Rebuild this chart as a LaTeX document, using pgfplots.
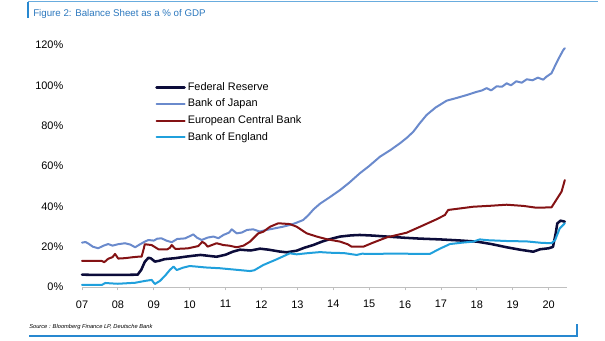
\documentclass[border=0pt]{standalone}
\usepackage{pgfplots}
\pgfplotsset{compat=1.18}
\usepackage{fontspec}
\setmainfont{Liberation Sans}
\definecolor{fedc}{RGB}{12,12,58}
\definecolor{bojc}{RGB}{106,138,204}
\definecolor{ecbc}{RGB}{132,18,20}
\definecolor{boec}{RGB}{32,160,220}
\definecolor{framec}{RGB}{40,136,208}
\definecolor{titlec}{RGB}{44,120,190}
\begin{document}
\begin{tikzpicture}
\path[use as bounding box] (0pt,0pt) rectangle (453.75pt,255.75pt);
% header
\draw[framec, line width=0.9pt] (21pt,242.25pt) -- (21pt,254.6pt);
\draw[framec!70, line width=0.6pt] (21pt,254.6pt) -- (448.5pt,254.6pt);
\node[anchor=west, inner sep=0pt, text=titlec, font=\fontsize{7.3}{8}\selectfont] at (24.75pt,245.5pt) {Figure 2: Balance Sheet as a \% of GDP};
% footer
\node[anchor=west, inner sep=0pt, font=\fontsize{4.3}{5}\selectfont\itshape] at (21.75pt,10.5pt) {Source : Bloomberg Finance LP, Deutsche Bank};
\draw[framec, line width=0.9pt] (21.75pt,3.75pt) -- (432.75pt,3.75pt) -- (432.75pt,12.75pt);
\begin{axis}[
  at={(61.5pt,40.5pt)}, anchor=south west,
  scale only axis, width=363.45pt, height=181.5pt,
  xmin=2007, xmax=2020.5, ymin=0, ymax=120,
  axis x line*=bottom, axis y line*=left,
  x axis line style={draw=black!25, line width=0.6pt},
  y axis line style={draw=none},
  xtick={2007,...,2020},
  xticklabels={07,08,09,10,11,12,13,14,15,16,17,18,19,20},
  ytick={0,20,...,120},
  yticklabel={\pgfmathprintnumber{\tick}\%},
  /pgf/number format/assume math mode=true,
  tick label style={font=\fontsize{8.2}{9.6}\selectfont},
  xticklabel style={yshift=-4pt},
  yticklabel style={xshift=-8pt},
  xtick style={draw=black!25, line width=0.6pt},
  ytick style={draw=none},
  major tick length=2.5pt, tick align=outside,
  clip=false,
  legend style={at={(0.1506,0.847)}, anchor=north west, draw=none, fill=none,
    font=\fontsize{8.2}{9.6}\selectfont, row sep=5pt, inner sep=0pt,
    nodes={inner sep=0pt, text height=6pt, text depth=1.5pt},
    /tikz/every odd column/.append style={column sep=1.5pt}},
  legend cell align=left,
  legend image code/.code={\draw[#1] (0pt,0pt) -- (21pt,0pt);},
  every axis plot/.append style={line join=round, line cap=round},
]
\addplot[fedc, line width=1.9pt] coordinates {
(2007.0,6.1)(2007.5,6.0)(2008.0,6.0)(2008.55,6.1)(2008.65,8.5)(2008.75,12.5)(2008.85,14.5)(2008.92,14.2)(2009.03,12.6)(2009.15,13.0)(2009.3,13.8)(2009.6,14.3)(2009.87,15.0)(2010.1,15.5)(2010.3,15.9)(2010.5,15.5)(2010.75,15.0)(2011.0,16.0)(2011.2,17.5)(2011.4,18.5)(2011.7,18.1)(2011.96,19.0)(2012.2,18.5)(2012.5,17.6)(2012.7,17.2)(2012.98,18.0)(2013.2,19.5)(2013.44,20.8)(2013.7,22.6)(2013.9,23.7)(2014.19,25.0)(2014.5,25.6)(2014.74,25.8)(2015.1,25.5)(2015.5,25.0)(2016.0,24.4)(2016.4,24.0)(2016.97,23.6)(2017.5,23.1)(2018.0,22.5)(2018.4,21.3)(2018.83,19.7)(2019.2,18.5)(2019.57,17.5)(2019.76,18.7)(2020.0,19.2)(2020.12,19.9)(2020.2,27.0)(2020.24,31.5)(2020.33,32.9)(2020.45,32.4)};
\addlegendentry{Federal Reserve}
\addplot[bojc, line width=1.5pt] coordinates {
(2007.0,22.0)(2007.1,22.3)(2007.18,21.5)(2007.3,20.0)(2007.45,19.2)(2007.6,20.5)(2007.73,21.3)(2007.85,20.5)(2008.0,21.2)(2008.2,21.7)(2008.35,21.0)(2008.48,19.7)(2008.6,21.0)(2008.75,22.5)(2008.85,23.3)(2009.0,23.0)(2009.1,24.0)(2009.22,24.1)(2009.35,23.0)(2009.5,22.2)(2009.65,23.8)(2009.87,24.1)(2010.0,25.2)(2010.1,26.1)(2010.2,24.5)(2010.33,23.3)(2010.5,24.5)(2010.66,25.0)(2010.8,24.2)(2010.94,25.8)(2011.1,27.0)(2011.17,28.6)(2011.31,26.6)(2011.45,27.0)(2011.6,28.3)(2011.77,28.6)(2011.95,27.5)(2012.14,28.3)(2012.35,29.0)(2012.6,29.9)(2012.8,30.8)(2012.98,31.9)(2013.16,33.2)(2013.3,35.5)(2013.45,38.5)(2013.63,41.3)(2013.9,44.5)(2014.19,48.1)(2014.45,51.8)(2014.74,56.4)(2015.0,60.0)(2015.3,64.6)(2015.6,68.0)(2015.86,71.3)(2016.05,74.0)(2016.23,77.0)(2016.4,81.0)(2016.6,85.3)(2016.85,89.0)(2017.16,92.4)(2017.45,93.8)(2017.72,95.2)(2018.0,96.8)(2018.15,97.5)(2018.27,98.6)(2018.4,97.5)(2018.55,99.5)(2018.7,99.3)(2018.83,101.0)(2018.95,100.0)(2019.1,102.0)(2019.25,101.3)(2019.39,103.0)(2019.55,102.5)(2019.7,103.8)(2019.85,102.8)(2019.94,104.3)(2020.08,106.0)(2020.2,110.5)(2020.3,114.0)(2020.41,117.6)(2020.45,118.4)};
\addlegendentry{Bank of Japan}
\addplot[ecbc, line width=1.5pt] coordinates {
(2007.0,12.9)(2007.3,13.0)(2007.55,12.9)(2007.62,12.3)(2007.73,14.0)(2007.85,14.8)(2007.92,16.4)(2008.01,14.1)(2008.2,14.3)(2008.38,14.7)(2008.55,15.0)(2008.66,15.0)(2008.72,19.0)(2008.75,21.2)(2008.94,20.8)(2009.13,18.7)(2009.38,18.7)(2009.45,19.5)(2009.5,20.8)(2009.6,18.9)(2009.8,19.0)(2009.96,19.2)(2010.24,20.3)(2010.35,22.4)(2010.43,21.5)(2010.5,20.0)(2010.75,21.7)(2010.94,20.8)(2011.1,20.5)(2011.31,19.7)(2011.5,20.5)(2011.68,22.5)(2011.91,26.6)(2012.05,27.4)(2012.24,29.9)(2012.47,31.6)(2012.79,31.2)(2012.98,29.9)(2013.26,26.6)(2013.54,25.0)(2013.82,23.7)(2014.19,22.5)(2014.4,21.2)(2014.51,20.0)(2014.84,20.0)(2015.11,22.0)(2015.49,24.6)(2016.04,26.9)(2016.42,29.9)(2016.88,33.6)(2017.11,35.7)(2017.2,38.2)(2017.9,39.8)(2018.4,40.3)(2018.83,40.8)(2019.3,40.2)(2019.66,39.3)(2020.08,39.5)(2020.27,44.8)(2020.36,47.3)(2020.45,53.0)};
\addlegendentry{European Central Bank}
\addplot[boec, line width=1.5pt] coordinates {
(2007.0,1.0)(2007.55,1.0)(2007.65,2.0)(2007.8,1.8)(2008.0,1.6)(2008.48,2.1)(2008.75,3.0)(2008.94,3.5)(2009.03,1.5)(2009.17,3.0)(2009.31,5.5)(2009.45,8.5)(2009.55,10.1)(2009.64,8.4)(2009.8,9.5)(2010.0,10.4)(2010.2,10.1)(2010.43,9.7)(2010.84,9.3)(2011.2,8.7)(2011.68,7.9)(2011.8,8.3)(2012.05,10.9)(2012.42,13.7)(2012.79,16.7)(2012.98,16.2)(2013.3,16.8)(2013.63,17.3)(2013.9,17.0)(2014.3,16.8)(2014.65,15.9)(2014.8,16.5)(2015.1,16.4)(2015.8,16.6)(2016.3,16.4)(2016.69,16.4)(2016.97,19.0)(2017.25,21.3)(2017.6,22.0)(2017.9,22.5)(2018.08,23.6)(2018.3,23.2)(2018.83,22.8)(2019.39,22.6)(2019.8,21.9)(2020.08,21.7)(2020.18,23.3)(2020.31,29.1)(2020.45,31.6)};
\addlegendentry{Bank of England}
\end{axis}
\end{tikzpicture}
\end{document}
